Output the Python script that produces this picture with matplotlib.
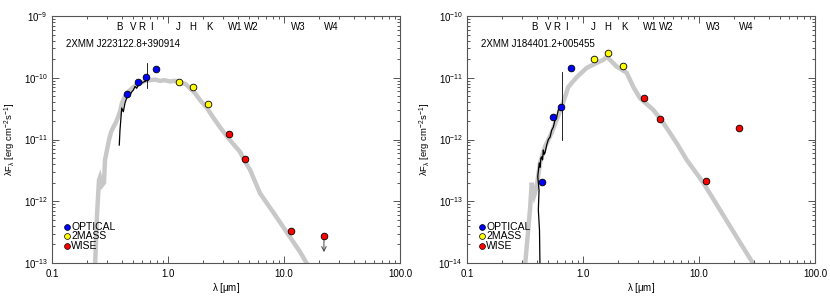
import matplotlib
matplotlib.use('Agg')
import matplotlib.pyplot as plt
import numpy as np
from matplotlib.ticker import FixedLocator, NullFormatter, FixedFormatter
import matplotlib.transforms as mtransforms

plt.rcParams['font.family'] = ['Liberation Sans', 'DejaVu Sans']
plt.rcParams['mathtext.fontset'] = 'custom'
plt.rcParams['mathtext.rm'] = 'Liberation Sans'
plt.rcParams['mathtext.it'] = 'Liberation Sans:italic'
plt.rcParams['mathtext.default'] = 'regular'

# ---------------- data ----------------
band_names = ['B', 'V', 'R', 'I', 'J', 'H', 'K', 'W1', 'W2', 'W3', 'W4']
band_label_lam = [0.385, 0.497, 0.593, 0.723, 1.227, 1.62, 2.26, 3.78, 5.27, 13.2, 25.4]

opt_lam = [0.44, 0.55, 0.64, 0.79]
tmass_lam = [1.25, 1.65, 2.2]
wise_lam = [3.35, 4.6, 11.6, 22.1]

# source 1: 2XMM J223122.8+390914
name1 = '2XMM J223122.8+390914'
opt_flux1 = [5.4e-11, 8.6e-11, 1.02e-10, 1.39e-10]
tmass_flux1 = [8.6e-11, 7.2e-11, 3.76e-11]
wise_flux1 = [1.23e-11, 4.8e-12, 3.26e-13, 2.7e-13]
w4_limit_end1 = 1.5e-13

model1_loglam = [-0.629, -0.612, -0.595, -0.586, -0.569, -0.552, -0.543, -0.526, -0.509, -0.491,
                 -0.474, -0.448, -0.431, -0.414, -0.397, -0.371, -0.345, -0.310, -0.276, -0.241,
                 -0.198, -0.155, -0.110, -0.069, -0.030, 0.017, 0.060, 0.103, 0.150, 0.190,
                 0.233, 0.276, 0.336, 0.388, 0.448, 0.534, 0.621, 0.664, 0.707, 0.793,
                 0.922, 1.052, 1.138, 1.21]
model1_logflux = [-13.05, -12.22, -11.66, -11.61, -11.74, -11.70, -11.33, -11.17, -11.01, -10.88,
                  -10.81, -10.72, -10.64, -10.55, -10.41, -10.30, -10.23, -10.17, -10.12, -10.09,
                  -10.05, -10.04, -10.03, -10.05, -10.04, -10.06, -10.05, -10.08, -10.10, -10.17,
                  -10.25, -10.36, -10.49, -10.64, -10.80, -11.01, -11.20, -11.36, -11.49, -11.87,
                  -12.22, -12.58, -12.82, -13.05]

spec1_loglam = [-0.420, -0.414, -0.408, -0.399, -0.385, -0.371, -0.356, -0.342, -0.328, -0.313,
                -0.299, -0.284, -0.270, -0.256, -0.241, -0.227, -0.213, -0.198, -0.184, -0.170]
spec1_logflux = [-11.09, -10.85, -10.71, -10.49, -10.55, -10.41, -10.33, -10.31, -10.28, -10.23,
                 -10.20, -10.14, -10.17, -10.12, -10.10, -10.09, -10.07, -10.06, -10.04, -10.03]
spike1_loglam = -0.184
spike1_logflux = [-9.76, -10.17]

# source 2: 2XMM J184401.2+005455
name2 = '2XMM J184401.2+005455'
opt_flux2 = [2.03e-13, 2.29e-12, 3.3e-12, 1.46e-11]
tmass_flux2 = [1.99e-11, 2.49e-11, 1.53e-11]
wise_flux2 = [4.7e-12, 2.17e-12, 2.1e-13, 1.55e-12]

model2_loglam = [-0.50, -0.457, -0.442, -0.420, -0.399, -0.371, -0.328, -0.270, -0.227, -0.184,
                 -0.155, -0.127, -0.054, 0.032, 0.118, 0.175, 0.204, 0.233, 0.291, 0.377,
                 0.434, 0.491, 0.606, 0.692, 0.808, 0.894, 1.037, 1.181, 1.325, 1.48]
model2_logflux = [-14.05, -13.14, -12.70, -12.90, -12.77, -12.38, -12.12, -11.89, -11.68, -11.47,
                  -11.31, -11.15, -10.99, -10.84, -10.76, -10.71, -10.66, -10.71, -10.82, -10.92,
                  -11.15, -11.33, -11.52, -11.73, -12.06, -12.33, -12.70, -13.14, -13.58, -14.05]

spec2_loglam = [-0.371, -0.375, -0.385, -0.379, -0.390, -0.377, -0.370, -0.363, -0.356, -0.349,
                -0.342, -0.335, -0.328, -0.313, -0.299, -0.284, -0.270, -0.256, -0.241, -0.227,
                -0.213, -0.198, -0.184]
spec2_logflux = [-14.05, -13.47, -13.14, -12.82, -12.60, -12.38, -12.45, -12.30, -12.28, -12.33,
                 -12.17, -12.24, -12.22, -12.09, -12.00, -11.96, -11.85, -11.80, -11.68, -11.64,
                 -11.52, -11.49, -11.44]
spike2_loglam = -0.184
spike2_logflux = [-10.90, -12.00]

ylims = [(1e-13, 1e-9), (1e-14, 1e-10)]

# ---------------- plotting ----------------
fig = plt.figure(figsize=(8.3, 2.97), dpi=100)
W, H = 830.0, 297.0
axes_px = [(52, 16, 400, 263), (467, 16, 815, 263)]

gray = '#c8c8c8'
spine_col = '#555555'


def setup(ax, ylim):
    ax.set_xscale('log')
    ax.set_yscale('log')
    ax.set_xlim(0.1, 100)
    ax.set_ylim(*ylim)
    for s in ax.spines.values():
        s.set_color(spine_col)
        s.set_linewidth(0.8)
    ax.xaxis.set_major_locator(FixedLocator([0.1, 1, 10, 100]))
    ax.xaxis.set_major_formatter(FixedFormatter(['0.1', '1.0', '10.0', '100.0']))
    xminor = [m * 10.0 ** e for e in range(-1, 2) for m in range(2, 10)]
    ax.xaxis.set_minor_locator(FixedLocator(xminor))
    ax.xaxis.set_minor_formatter(NullFormatter())
    e0, e1 = int(round(np.log10(ylim[0]))), int(round(np.log10(ylim[1])))
    ymaj = [10.0 ** e for e in range(e0, e1 + 1)]
    ax.yaxis.set_major_locator(FixedLocator(ymaj))
    ax.yaxis.set_major_formatter(FixedFormatter([r'$10^{%d}$' % e for e in range(e0, e1 + 1)]))
    yminor = [m * 10.0 ** e for e in range(e0, e1) for m in range(2, 10)]
    ax.yaxis.set_minor_locator(FixedLocator(yminor))
    ax.yaxis.set_minor_formatter(NullFormatter())
    ax.tick_params(which='both', direction='in', top=True, right=True, colors=spine_col,
                   labelcolor='black', labelsize=7, width=0.7)
    ax.tick_params(which='major', length=5)
    ax.tick_params(which='minor', length=2.5)
    ax.tick_params(axis='x', pad=4)
    ax.tick_params(axis='y', pad=3)
    ax.set_xlabel(r'$\lambda$ [$\mu$m]', fontsize=7, labelpad=2)
    ax.set_ylabel(r'$\lambda$F$_\lambda$ [erg cm$^{-2}$s$^{-1}$]', fontsize=6.8)
    ax.yaxis.set_label_coords(-0.098, 0.5)


datasets = [
    dict(name=name1, opt=opt_flux1, tm=tmass_flux1, wise=wise_flux1,
         mlam=model1_loglam, mflux=model1_logflux, slam=spec1_loglam, sflux=spec1_logflux,
         spk_lam=spike1_loglam, spk_flux=spike1_logflux, limit=w4_limit_end1),
    dict(name=name2, opt=opt_flux2, tm=tmass_flux2, wise=wise_flux2,
         mlam=model2_loglam, mflux=model2_logflux, slam=spec2_loglam, sflux=spec2_logflux,
         spk_lam=spike2_loglam, spk_flux=spike2_logflux, limit=None),
]

for (x0, y0, x1, y1), d, yl in zip(axes_px, datasets, ylims):
    ax = fig.add_axes([x0 / W, 1 - y1 / H, (x1 - x0) / W, (y1 - y0) / H])
    setup(ax, yl)
    ax.plot(10 ** np.array(d['mlam']), 10 ** np.array(d['mflux']), color=gray, lw=3.2,
            solid_joinstyle='miter', zorder=1)
    ax.plot(10 ** np.array(d['slam']), 10 ** np.array(d['sflux']), color='black', lw=0.9, zorder=2)
    ax.plot([10 ** d['spk_lam']] * 2, 10 ** np.array(d['spk_flux']), color='black', lw=0.6, zorder=2)

    if d['limit'] is not None:
        ax.annotate('', xy=(wise_lam[3], d['limit']), xytext=(wise_lam[3], d['wise'][3]),
                    arrowprops=dict(arrowstyle='->', color='#444444', lw=0.7,
                                    shrinkA=0, shrinkB=0, mutation_scale=8), zorder=3)

    ms = 4.8
    ax.plot(opt_lam, d['opt'], 'o', ms=ms, mfc='#0000ff', mec='black', mew=0.6, zorder=4)
    ax.plot(tmass_lam, d['tm'], 'o', ms=ms, mfc='#ffff00', mec='black', mew=0.6, zorder=4)
    ax.plot(wise_lam, d['wise'], 'o', ms=ms, mfc='#ff0000', mec='black', mew=0.6, zorder=4)

    # band labels
    trans = mtransforms.blended_transform_factory(ax.transData, ax.transAxes)
    for nm, lm in zip(band_names, band_label_lam):
        ax.text(lm, 0.957, nm, transform=trans, ha='center', va='center', fontsize=7)

    ax.text(0.039, 0.887, d['name'], transform=ax.transAxes, ha='left', va='center', fontsize=7)

    # legend
    leg = [('OPTICAL', '#0000ff', 0.147), ('2MASS', '#ffff00', 0.108), ('WISE', '#ff0000', 0.068)]
    for lab, c, yy in leg:
        ax.plot([0.042], [yy], 'o', transform=ax.transAxes, ms=4.2, mfc=c, mec='black', mew=0.5,
                clip_on=False, zorder=5)
        ax.text(0.055, yy, lab, transform=ax.transAxes, ha='left', va='center', fontsize=7.5)

fig.savefig('out.png', dpi=100)
